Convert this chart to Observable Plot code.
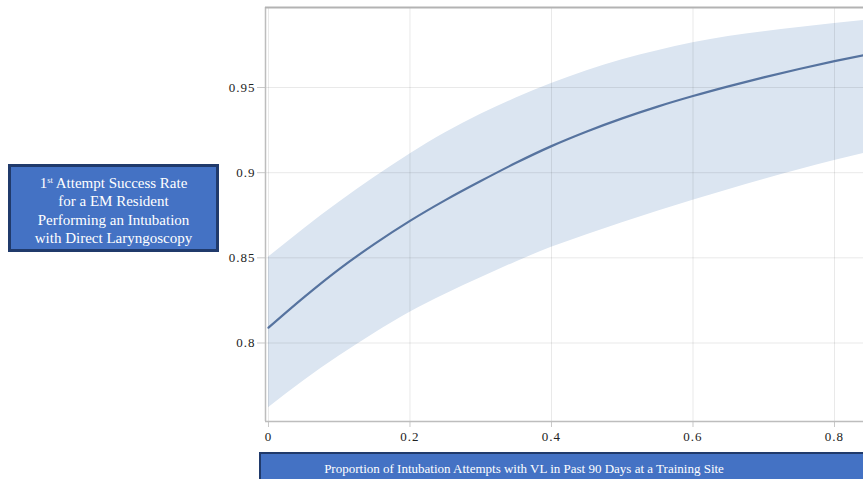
<!DOCTYPE html>
<html>
<head>
<meta charset="utf-8">
<script src="https://cdn.jsdelivr.net/npm/d3@7"></script>
<script src="https://cdn.jsdelivr.net/npm/@observablehq/plot@0.6"></script>
<style>
  html, body { margin: 0; padding: 0; background: #fff; overflow: hidden; }
  #wrap { position: relative; width: 863px; height: 479px; overflow: hidden; font-family: "Liberation Serif", "Times New Roman", serif; }
  #chart { position: absolute; left: 0; top: 0; }
  .box { position: absolute; background: #4472c4; color: #fff; box-sizing: border-box; text-align: center; }
  #ylab { left: 8px; top: 164px; width: 211px; height: 88px; border: 3px solid #203a6b; font-size: 15px; line-height: 18.3px; padding-top: 7px; }
  #ylab sup { font-size: 8.5px; vertical-align: 5px; line-height: 0; }
  #xlab { left: 259px; top: 452px; width: 620px; height: 40px; border: 2px solid #203a6b; font-size: 13px; }
  #xlab span { position: absolute; left: 263px; top: 7px; transform: translateX(-50%); white-space: nowrap; }
</style>
</head>
<body>
<div id="wrap">
  <div id="chart"></div>
  <div class="box" id="ylab">1<sup>st</sup> Attempt Success Rate<br>for a EM Resident<br>Performing an Intubation<br>with Direct Laryngoscopy</div>
  <div class="box" id="xlab"><span>Proportion of Intubation Attempts with VL in Past 90 Days at a Training Site</span></div>
</div>
<script>
// Proportion of VL attempts (x)
const xs    = [0, 0.05, 0.10, 0.15, 0.20, 0.25, 0.30, 0.35, 0.40, 0.45, 0.50, 0.55, 0.60, 0.65, 0.70, 0.75, 0.80, 0.85];
// Predicted 1st attempt success rate
const fit   = [0.809, 0.8268, 0.8434, 0.8582, 0.8717, 0.8839, 0.8951, 0.9058, 0.9156, 0.9242, 0.9319, 0.9388, 0.9450, 0.9507, 0.9560, 0.9609, 0.9655, 0.9697];
// 95% CI upper and lower bounds
const upper = [0.8504, 0.8670, 0.8826, 0.8973, 0.9110, 0.9235, 0.9343, 0.9438, 0.9524, 0.9599, 0.9663, 0.9716, 0.9763, 0.9799, 0.9828, 0.9853, 0.9876, 0.9898];
const lower = [0.7620, 0.7778, 0.7923, 0.8057, 0.8180, 0.8286, 0.8383, 0.8476, 0.8562, 0.8636, 0.8706, 0.8773, 0.8838, 0.8900, 0.8960, 0.9017, 0.9072, 0.9122];

const xTicks = [0, 0.2, 0.4, 0.6, 0.8];
const yTicks = [0.8, 0.85, 0.9, 0.95];
const xDomain = [-0.0042, 0.841];
const yDomain = [0.7539, 0.997];

const data = xs.map((x, i) => ({x, fit: fit[i], upper: upper[i], lower: lower[i]}));

const chart = Plot.plot({
  width: 863,
  height: 479,
  marginLeft: 265,
  marginRight: 0,
  marginTop: 7,
  marginBottom: 58,
  style: {fontFamily: "'Liberation Serif', 'Times New Roman', serif", fontSize: "13px", color: "#222", background: "transparent", overflow: "visible"},
  x: {domain: xDomain, ticks: xTicks, tickFormat: d => String(d), tickSize: 6, tickPadding: 4, label: null},
  y: {domain: yDomain, ticks: yTicks, tickFormat: d => String(d), tickSize: 8, tickPadding: 2, label: null},
  marks: [
    Plot.areaY(data, {x: "x", y1: "lower", y2: "upper", fill: "#dbe5f1", curve: "monotone-x", clip: true}),
    Plot.ruleX(xTicks, {stroke: "#000", strokeOpacity: 0.09}),
    Plot.ruleY(yTicks, {stroke: "#000", strokeOpacity: 0.09}),
    Plot.lineY(data, {x: "x", y: "fit", stroke: "#56739f", strokeWidth: 2.2, curve: "monotone-x", clip: true}),
    Plot.ruleX([xDomain[0]], {stroke: "#bdbdbd", strokeWidth: 1.5}),
    Plot.ruleY([yDomain[0]], {stroke: "#bdbdbd", strokeWidth: 1.5}),
    Plot.ruleY([yDomain[1]], {stroke: "#b3b3b3", strokeWidth: 2})
  ]
});
chart.querySelectorAll("g[aria-label='x-axis tick'] path, g[aria-label='y-axis tick'] path").forEach(p => p.setAttribute("stroke", "#c8c8c8"));
chart.querySelectorAll("g[aria-label$='tick label'] text").forEach(t => t.setAttribute("letter-spacing", "1"));
document.getElementById("chart").appendChild(chart);
</script>
</body>
</html>
